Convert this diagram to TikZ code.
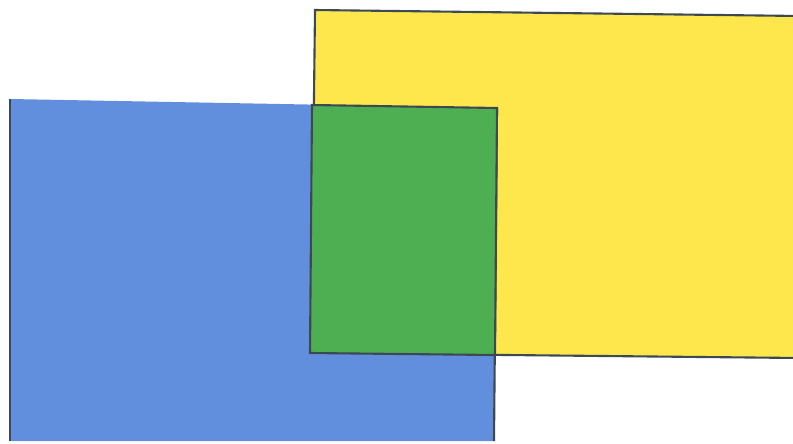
\documentclass[tikz,border=0pt]{standalone}
\usepackage{tikz}
\usetikzlibrary{positioning}
\definecolor{sheetYellow}{HTML}{FDE74C}
\definecolor{sheetBlue}{HTML}{618FDD}
\definecolor{sheetGreen}{HTML}{4DAF52}
\definecolor{edgeSlate}{HTML}{3E4852}
\begin{document}
\begin{tikzpicture}[x=0.02cm, y=-0.02cm, line width=1.2pt]
    \useasboundingbox (0,0) rectangle (793,443);
    \clip (0,0) rectangle (793,443);
    % yellow sheet, runs off the right edge
    \fill[sheetYellow] (315,10) -- (800,16) -- (800,358) -- (311,353) -- cycle;
    \draw[edgeSlate] (800,16) -- (315,10) -- (311,353) -- (800,358);
    % blue sheet, runs off the bottom edge
    \fill[sheetBlue] (10,99) -- (497,108) -- (494,441) -- (10,441) -- cycle;
    \draw[edgeSlate] (10,441) -- (10,99);
    \draw[edgeSlate] (497,108) -- (494,441);
    % overlap
    \draw[edgeSlate, fill=sheetGreen] (312,105) -- (497,108) -- (495,355) -- (310,353) -- cycle;
  \end{tikzpicture}
\end{document}
